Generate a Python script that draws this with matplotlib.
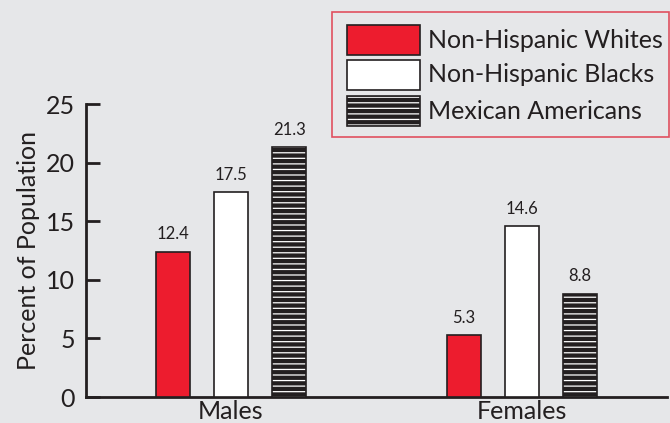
import matplotlib.pyplot as plt
import matplotlib.patches as mpatches
import numpy as np

plt.rcParams['font.family'] = ['Lato', 'DejaVu Sans']
plt.rcParams['hatch.linewidth'] = 0.9

groups = ['Males', 'Females']
series = ['Non-Hispanic Whites', 'Non-Hispanic Blacks', 'Mexican Americans']
values = {
    'Non-Hispanic Whites': [12.4, 5.3],
    'Non-Hispanic Blacks': [17.5, 14.6],
    'Mexican Americans': [21.3, 8.8],
}
yticks = [0, 5, 10, 15, 20, 25]

bg = '#e6e7e9'
ink = '#231f20'
red = '#ed1c2e'

fig = plt.figure(figsize=(6.7, 4.23), dpi=100, facecolor=bg)
ax = fig.add_axes([86 / 670, 1 - 397 / 423, (667 - 86) / 670, (397 - 104) / 423])
ax.set_facecolor(bg)

x = np.arange(len(groups))
width = 0.117
offsets = [-0.2, 0.0, 0.2]

for s, off in zip(series, offsets):
    vals = values[s]
    xs = x + off
    if s == 'Non-Hispanic Whites':
        bars = ax.bar(xs, vals, width, color=red, edgecolor=ink, linewidth=1.2, zorder=3)
    elif s == 'Non-Hispanic Blacks':
        bars = ax.bar(xs, vals, width, color='white', edgecolor=ink, linewidth=1.2, zorder=3)
    else:
        ax.bar(xs, vals, width, color=ink, edgecolor='white', hatch='---',
               linewidth=0, zorder=3)
        bars = ax.bar(xs, vals, width, fill=False, edgecolor=ink, linewidth=1.2, zorder=4)
    for b, v in zip(bars, vals):
        ax.text(b.get_x() + b.get_width() / 2, v + 0.8, f'{v:.1f}',
                ha='center', va='bottom', fontsize=12, color=ink)

ax.set_xlim(-0.498, 1.498)
ax.set_ylim(0, 25)
ax.set_yticks(yticks)
ax.set_yticklabels([str(t) for t in yticks], fontsize=18, color=ink)
ax.tick_params(axis='y', direction='in', length=10, width=2, color=ink, pad=8)
ax.set_xticks(x)
ax.set_xticklabels(groups, fontsize=18, color=ink)
ax.tick_params(axis='x', length=0, pad=2)
ax.set_ylabel('Percent of Population', fontsize=18, color=ink, labelpad=4)

for side in ['top', 'right']:
    ax.spines[side].set_visible(False)
for side in ['left', 'bottom']:
    ax.spines[side].set_linewidth(2)
    ax.spines[side].set_color(ink)

# Legend box
W, H = 670, 423
fig.add_artist(mpatches.Rectangle((332 / W, 1 - 137 / H), (669 - 332) / W, (137 - 12) / H,
                                  transform=fig.transFigure, fill=False,
                                  edgecolor='#e05060', linewidth=1.2))
rows = [40, 75, 111]
for s, yc in zip(series, rows):
    y0 = 1 - (yc + 15) / H
    rect = dict(transform=fig.transFigure, linewidth=1.2)
    if s == 'Non-Hispanic Whites':
        fig.add_artist(mpatches.Rectangle((347 / W, y0), 73 / W, 30 / H,
                                          facecolor=red, edgecolor=ink, **rect))
    elif s == 'Non-Hispanic Blacks':
        fig.add_artist(mpatches.Rectangle((347 / W, y0), 73 / W, 30 / H,
                                          facecolor='white', edgecolor=ink, **rect))
    else:
        fig.add_artist(mpatches.Rectangle((347 / W, y0), 73 / W, 30 / H,
                                          facecolor=ink, edgecolor='white', hatch='---',
                                          transform=fig.transFigure, linewidth=0))
        fig.add_artist(mpatches.Rectangle((347 / W, y0), 73 / W, 30 / H,
                                          fill=False, edgecolor=ink, **rect))
    fig.text(428 / W, 1 - yc / H, s, fontsize=18, color=ink, va='center', ha='left')

fig.savefig('out.png', dpi=100, facecolor=bg)
